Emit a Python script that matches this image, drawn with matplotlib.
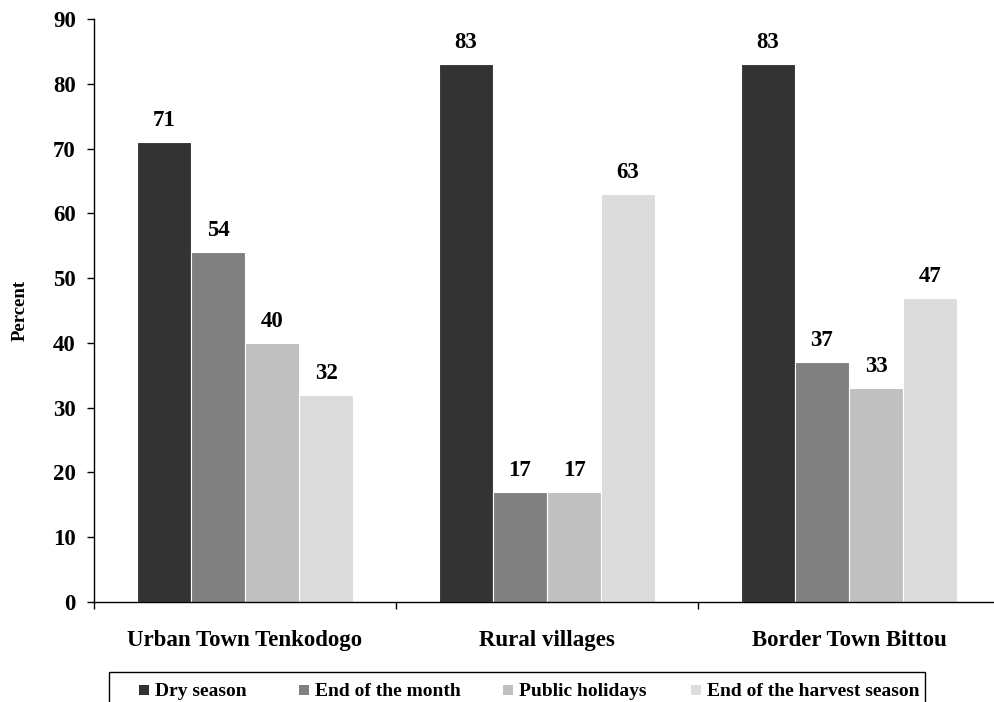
import matplotlib
matplotlib.use("Agg")
import matplotlib.pyplot as plt
from matplotlib.patches import Rectangle
import numpy as np

plt.rcParams['font.family'] = ['Liberation Serif', 'DejaVu Serif']
plt.rcParams['font.weight'] = 'bold'

locations = ["Urban Town Tenkodogo", "Rural villages", "Border Town Bittou"]
series_names = ["Dry season", "End of the month", "Public holidays",
                "End of the harvest season"]
dry_season = [71, 83, 83]
end_of_month = [54, 17, 37]
public_holidays = [40, 17, 33]
end_of_harvest = [32, 63, 47]
y_ticks = [0, 10, 20, 30, 40, 50, 60, 70, 80, 90]

series = [dry_season, end_of_month, public_holidays, end_of_harvest]
colors = ["#333333", "#808080", "#c0c0c0", "#dcdcdc"]

W, H = 994, 702
fig = plt.figure(figsize=(W / 100, H / 100), dpi=100)
ax = fig.add_axes([94 / W, 100 / H, 906 / W, 583 / H])

x = np.arange(len(locations))
width = 0.179
offsets = (np.arange(len(series)) - 1.5) * width

for vals, off, col, name in zip(series, offsets, colors, series_names):
    ax.bar(x + off, vals, width, color=col, edgecolor="white",
           linewidth=0.8, label=name)
    for xi, v in zip(x + off, vals):
        ax.annotate(f"{v}", (xi, v), xytext=(0, 11.5),
                    textcoords="offset points", ha="center", va="baseline",
                    fontsize=16.5, fontweight="bold")

ax.set_xlim(-0.5, 2.5)
ax.set_ylim(0, 90)
ax.set_yticks(y_ticks)
ax.tick_params(axis="y", direction="out", length=5, width=1, pad=8,
               labelsize=16.5)
for lbl in ax.get_yticklabels():
    lbl.set_fontweight("bold")

ax.set_xticks(x)
ax.set_xticklabels(locations, fontsize=16.5, fontweight="bold")
ax.tick_params(axis="x", which="major", length=0, pad=20)
ax.set_xticks([-0.5, 0.5, 1.5, 2.5], minor=True)
ax.tick_params(axis="x", which="minor", direction="out", length=5, width=1)

for side in ["top", "right"]:
    ax.spines[side].set_visible(False)
for side in ["left", "bottom"]:
    ax.spines[side].set_linewidth(1)
    ax.spines[side].set_color("black")

fig.text(20 / W, 1 - 310 / H, "Percent", rotation=90, ha="center",
         va="center", fontsize=13.5, fontweight="bold")

# Legend box along the bottom edge, entries laid out in pixel columns
frame = Rectangle((109 / W, -0.05), (925 - 109) / W, 0.05 + (H - 672) / H,
                  transform=fig.transFigure, facecolor="white",
                  edgecolor="black", linewidth=1)
fig.add_artist(frame)
entry_x = [139, 299, 503, 691]
for px, col, name in zip(entry_x, colors, series_names):
    fig.add_artist(Rectangle((px / W, 1 - 695 / H), 10 / W, 10 / H,
                             transform=fig.transFigure, facecolor=col,
                             edgecolor="none"))
    fig.text((px + 16) / W, 1 - 696 / H, name, ha="left", va="baseline",
             fontsize=14, fontweight="bold")

fig.savefig("out.png", dpi=100)
